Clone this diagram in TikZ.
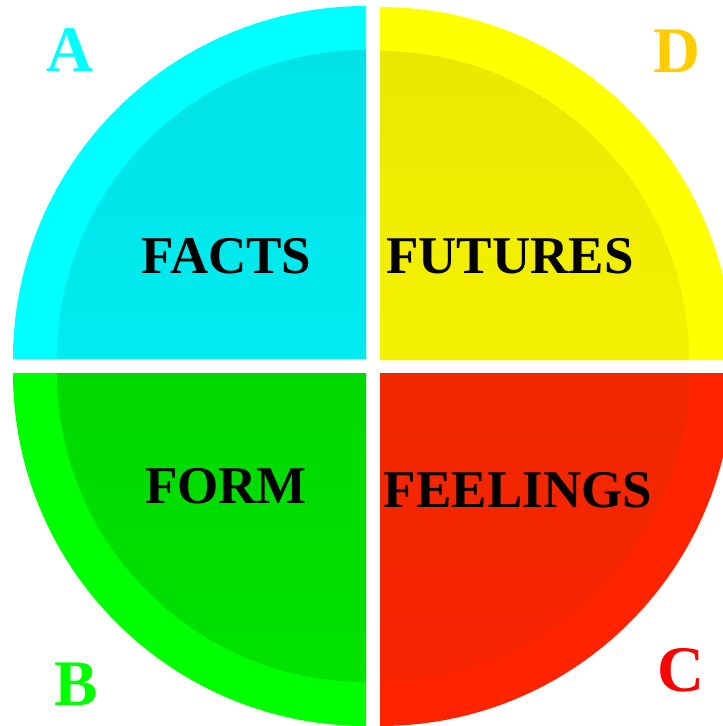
\documentclass[tikz,border=0pt]{standalone}
\usepackage{fontspec}
\setmainfont{Liberation Serif}
\definecolor{cyanout}{HTML}{00FFFF}
\definecolor{cyanin}{HTML}{00E2E6}
\definecolor{cyanin2}{HTML}{00ECF0}
\definecolor{yelout}{HTML}{FFFF00}
\definecolor{yelin}{HTML}{EBE800}
\definecolor{yelin2}{HTML}{F4F100}
\definecolor{grnout}{HTML}{00FF00}
\definecolor{grnin}{HTML}{00D900}
\definecolor{grnin2}{HTML}{00E200}
\definecolor{redout}{HTML}{FF2300}
\definecolor{redin}{HTML}{F02800}
\definecolor{redin2}{HTML}{F72400}
\definecolor{letD}{HTML}{FFCC00}
\definecolor{letC}{HTML}{FF0000}
\tikzset{
  biglabel/.style={font=\bfseries\fontsize{53}{53}\selectfont, text=black, inner sep=0pt},
  cornerletter/.style={font=\bfseries\fontsize{65}{65}\selectfont, inner sep=0pt},
}
\begin{document}
\begin{tikzpicture}[x=1pt,y=1pt]
\useasboundingbox (0,0) rectangle (723,-726);
\clip (0,0) rectangle (723,-726);
% cyan quadrant
\coordinate (cA) at (366,-359);
\fill[cyanout] (cA) -- ++(-353,0) arc[start angle=180,end angle=90,radius=353] -- cycle;
\shade[top color=cyanin, bottom color=cyanin2] (cA) -- ++(-309,0) arc[start angle=180,end angle=90,radius=309] -- cycle;
% yellow quadrant
\coordinate (cD) at (380,-360);
\fill[yelout] (cD) -- ++(0,353) arc[start angle=90,end angle=0,radius=353] -- cycle;
\shade[top color=yelin, bottom color=yelin2] (cD) -- ++(0,309) arc[start angle=90,end angle=0,radius=309] -- cycle;
% green quadrant
\coordinate (cB) at (366,-373);
\fill[grnout] (cB) -- ++(-353,0) arc[start angle=180,end angle=270,radius=353] -- cycle;
\shade[top color=grnin, bottom color=grnin2] (cB) -- ++(-309,0) arc[start angle=180,end angle=270,radius=309] -- cycle;
% red quadrant
\coordinate (cC) at (380,-373);
\fill[redout] (cC) -- ++(353,0) arc[start angle=0,end angle=-90,radius=353] -- cycle;
\shade[top color=redin, bottom color=redin2] (cC) -- ++(309,0) arc[start angle=0,end angle=-90,radius=309] -- cycle;
% labels
\node[biglabel] (facts) at (226.5,-256.5) {FACTS};
\node[biglabel] (futures) at (510,-256) {FUTURES};
\node[biglabel] (form) at (226,-486) {FORM};
\node[biglabel] (feelings) at (518,-490.5) {FEELINGS};
% corner letters
\node[cornerletter, text=cyanout] (la) at (69.5,-50.5) {A};
\node[cornerletter, text=letD] (ld) at (676.5,-51.5) {D};
\node[cornerletter, text=grnout] (lb) at (76,-684) {B};
\node[cornerletter, text=letC] (lc) at (680.5,-670) {C};
\end{tikzpicture}
\end{document}
